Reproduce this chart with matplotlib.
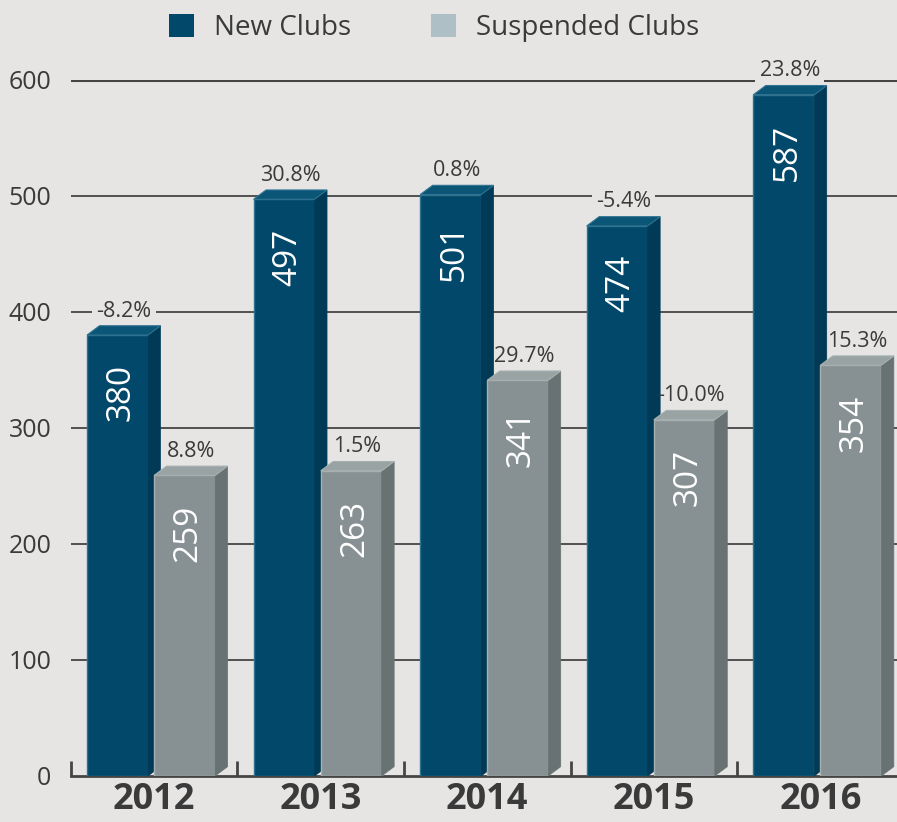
import matplotlib
matplotlib.use("Agg")
import matplotlib.pyplot as plt
from matplotlib.patches import Polygon, Patch
import numpy as np

years = ["2012", "2013", "2014", "2015", "2016"]
new_clubs = [380, 497, 501, 474, 587]
suspended = [259, 263, 341, 307, 354]
new_pct = ["-8.2%", "30.8%", "0.8%", "-5.4%", "23.8%"]
susp_pct = ["8.8%", "1.5%", "29.7%", "-10.0%", "15.3%"]

bg = "#E6E5E3"
txt = "#3A3A3A"
line_c = "#454545"

# front / side / top / edge colours
new_cols = ("#02486A", "#013A56", "#0B5577", "#2F7290")
susp_cols = ("#879193", "#697272", "#9AA3A4", "#A6B0B1")

plt.rcParams['font.family'] = ['Open Sans', 'DejaVu Sans']

fig = plt.figure(figsize=(8.97, 8.22), dpi=100, facecolor=bg)
ax = fig.add_axes([0.079, 0.056, 0.921, 0.847])
ax.set_facecolor("none")

w = 0.366
dx = 0.075
dy = 8.0
x = np.arange(len(years))
off_new = -0.22
off_susp = 0.183


def bar3d(cx, h, cols):
    front, side, top, edge = cols
    ax.bar(cx, h, w, color=front, edgecolor=edge, linewidth=1.0, zorder=3)
    r = cx + w / 2
    l = cx - w / 2
    ax.add_patch(Polygon([(r, 0), (r + dx, dy), (r + dx, h + dy), (r, h)],
                         closed=True, facecolor=side, edgecolor=side, lw=0.5, zorder=3))
    ax.add_patch(Polygon([(l, h), (l + dx, h + dy), (r + dx, h + dy), (r, h)],
                         closed=True, facecolor=top, edgecolor=edge, lw=0.8, zorder=3))


def labels(cx, h, val, pct):
    # background patch that cuts the gridline, below the bars
    ax.annotate(pct, xy=(cx + dx / 2, h + dy), xytext=(0, 3), textcoords="offset points",
                ha="center", va="bottom", fontsize=15.5, color=bg, zorder=2,
                bbox=dict(boxstyle="square,pad=0.2", facecolor=bg, edgecolor="none"))
    ax.annotate(pct, xy=(cx + dx / 2, h + dy), xytext=(0, 3), textcoords="offset points",
                ha="center", va="bottom", fontsize=15.5, color=txt, zorder=6)
    ax.annotate(str(val), xy=(cx + 0.02, h), xytext=(0, -21), textcoords="offset points",
                ha="center", va="top", rotation=90, fontsize=24, color="white", zorder=5)


for i in range(len(years)):
    bar3d(x[i] + off_new, new_clubs[i], new_cols)
    labels(x[i] + off_new, new_clubs[i], new_clubs[i], new_pct[i])
    bar3d(x[i] + off_susp, suspended[i], susp_cols)
    labels(x[i] + off_susp, suspended[i], suspended[i], susp_pct[i])

ax.set_xlim(-0.5, 4.46)
ax.set_ylim(0, 600)

ax.set_yticks([0, 100, 200, 300, 400, 500, 600])
ax.tick_params(axis="y", length=0, pad=14, labelsize=18, labelcolor=txt)
for yv in [100, 200, 300, 400, 500]:
    ax.axhline(yv, color=line_c, lw=1.3, zorder=1)
ax.axhline(600, color=line_c, lw=2.2, zorder=1)

ax.set_xticks(x)
ax.set_xticklabels(years, fontsize=26, fontweight="bold", color=txt)
ax.tick_params(axis="x", which="major", length=0, pad=4)
ax.set_xticks(np.arange(-0.5, 4.0, 1.0), minor=True)
ax.tick_params(axis="x", which="minor", direction="in", length=11, width=2, color=line_c)

for s in ["top", "right", "left"]:
    ax.spines[s].set_visible(False)
ax.spines["bottom"].set_color(line_c)
ax.spines["bottom"].set_linewidth(2)
ax.spines["bottom"].set_zorder(2)

handles = [Patch(facecolor="#02486A", label="New Clubs"),
           Patch(facecolor="#AEC0C6", label="Suspended Clubs")]
fig.legend(handles=handles, loc="upper center", bbox_to_anchor=(0.484, 1.013), ncol=2,
           frameon=False, fontsize=20, handlelength=0.9, handleheight=0.9,
           handletextpad=0.7, columnspacing=2.9, labelcolor=txt)

fig.savefig("out.png", dpi=100, facecolor=bg)
